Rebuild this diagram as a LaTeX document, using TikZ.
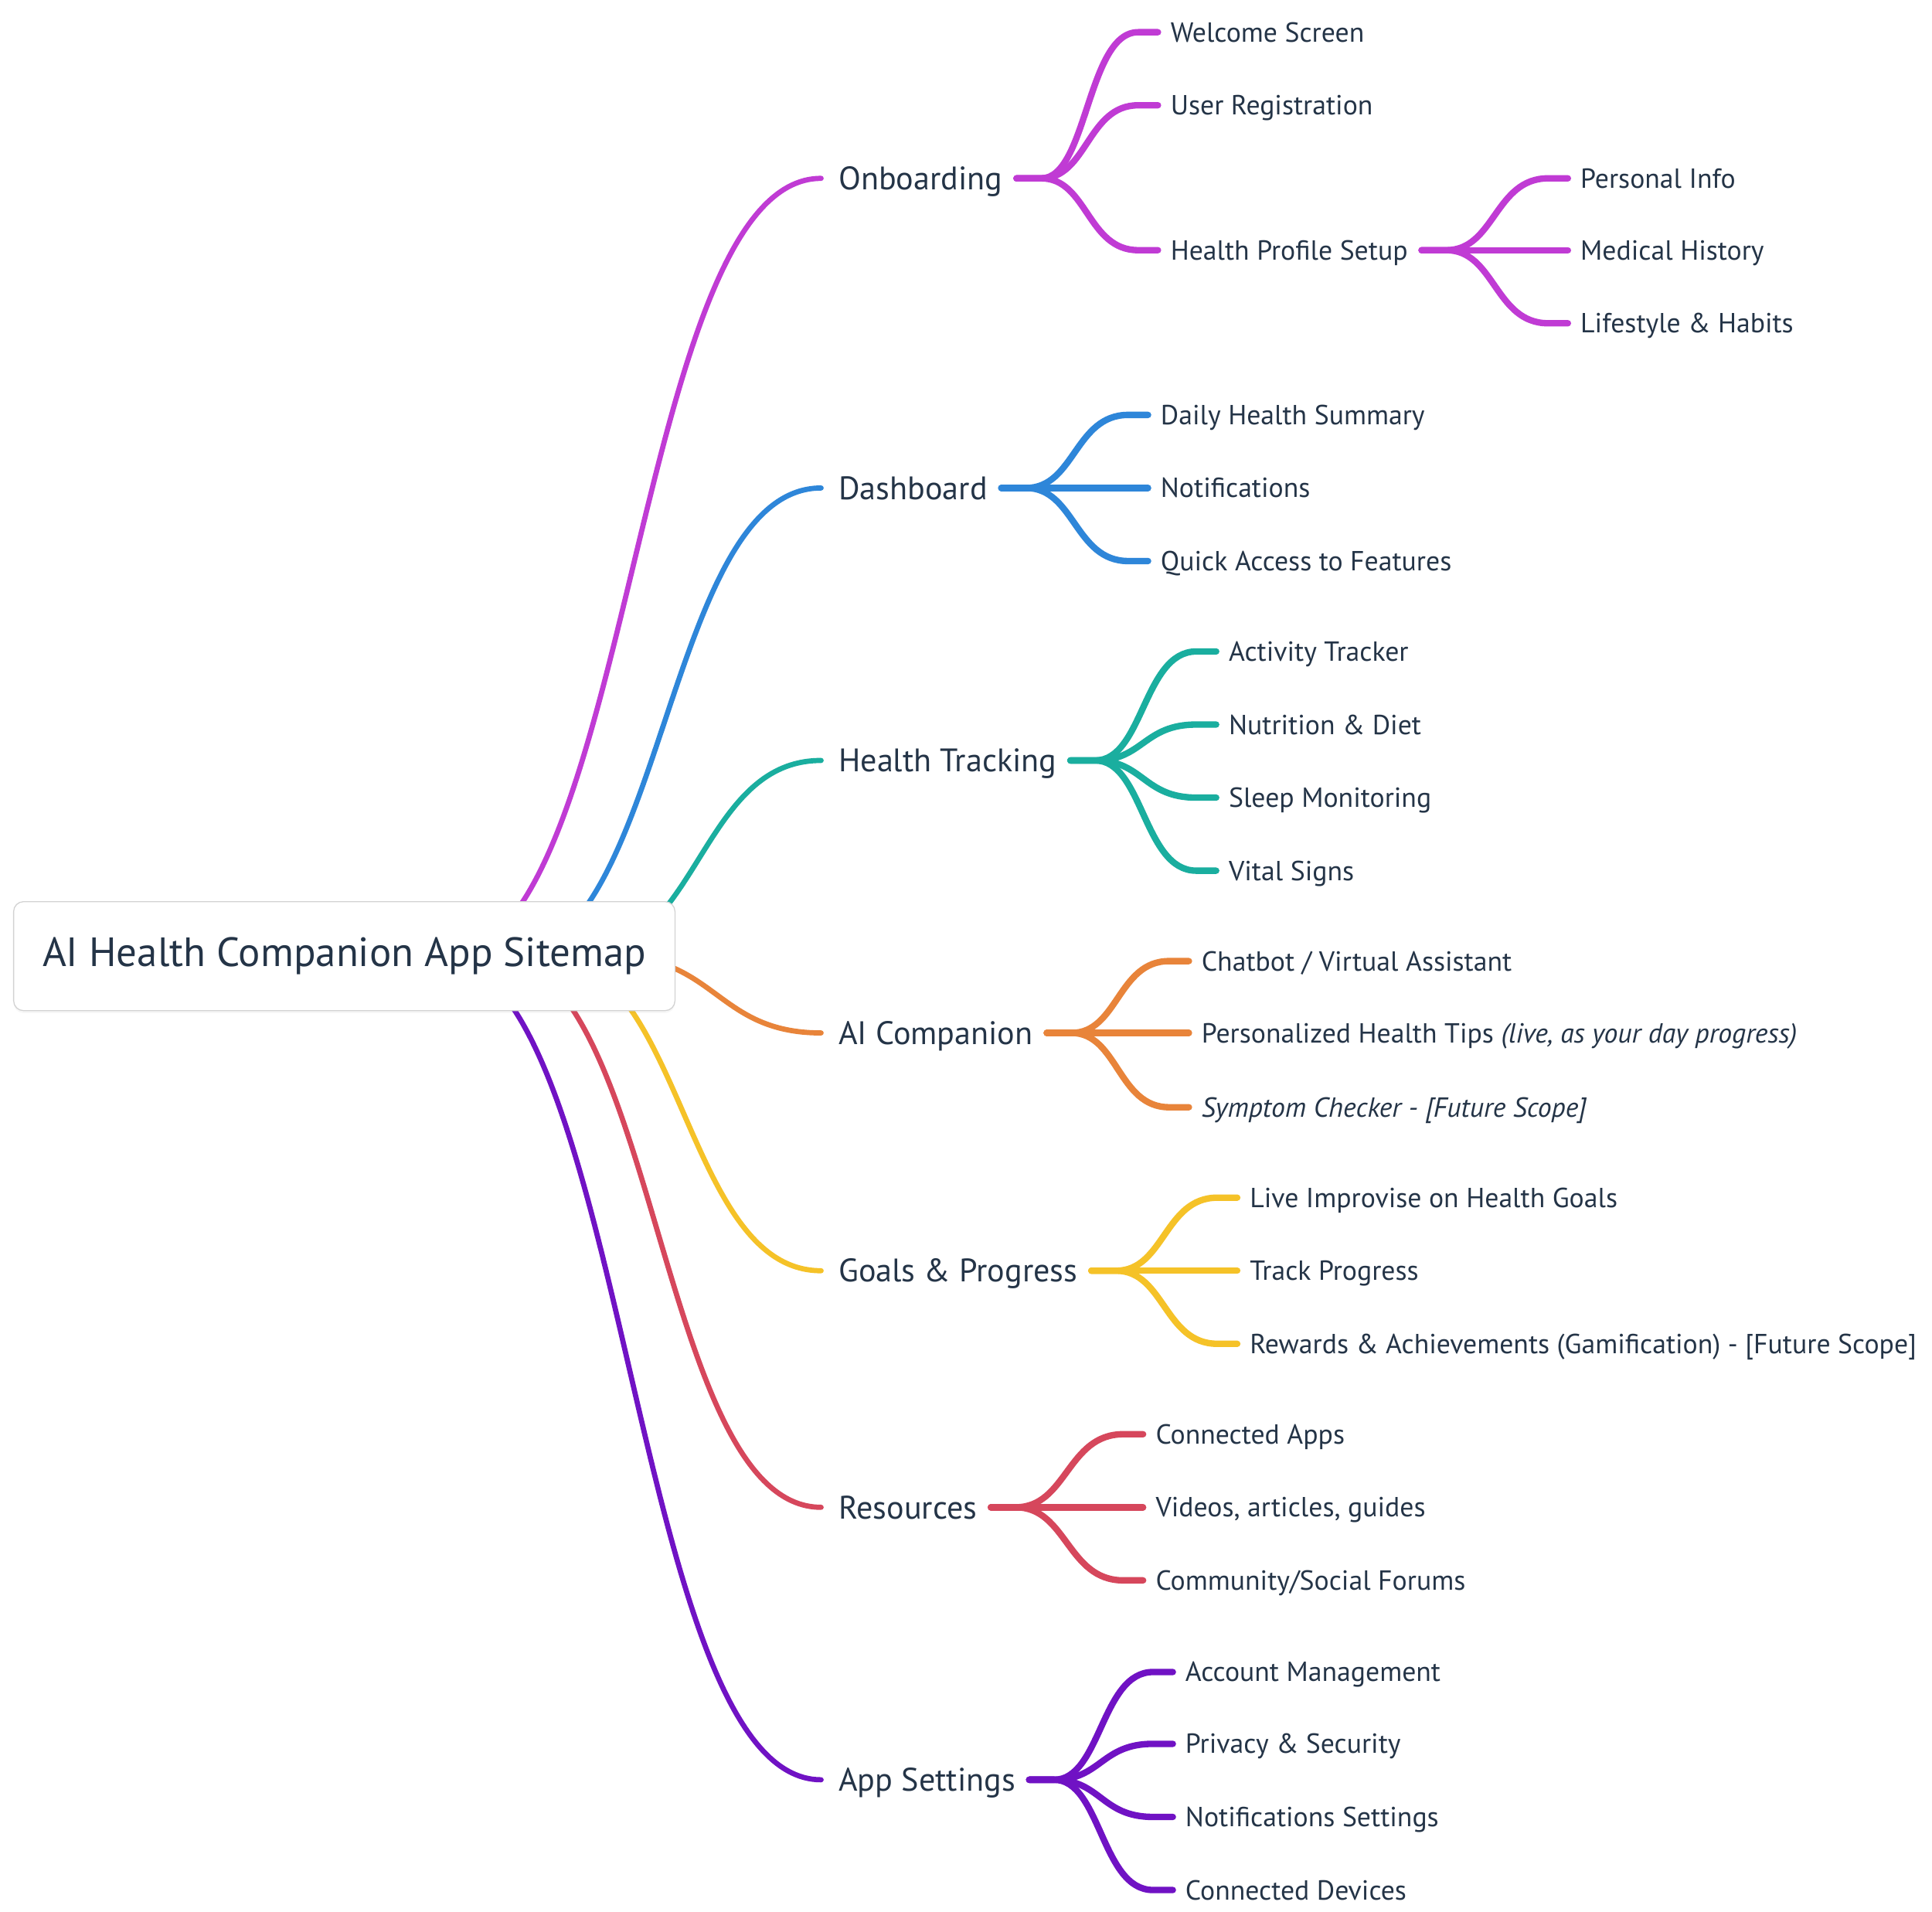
\documentclass[tikz,border=0pt]{standalone}
\usepackage{fontspec}
\setmainfont{PT Sans}
\usetikzlibrary{calc,backgrounds,shadows}
\definecolor{txt}{HTML}{243447}
\definecolor{boxc}{HTML}{D2D2D2}
\definecolor{cOn}{HTML}{C03BD4}
\definecolor{cDa}{HTML}{2E86D9}
\definecolor{cHt}{HTML}{1AAE9F}
\definecolor{cAi}{HTML}{E8843A}
\definecolor{cGo}{HTML}{F5C228}
\definecolor{cRe}{HTML}{D6475C}
\definecolor{cAp}{HTML}{7012C4}
\newcommand\mybranch[3]{\draw[br,#1] let \p1=($(#2.east)+(11,0)$), \p2=($(#3.west)+(-10,0)$), \p3=($(\p1)!.5!(\p2)$) in (\p1) -- (\x1+20pt,\y1) .. controls (\x3,\y1) and (\x3,\y2) .. (\x2-16pt,\y2) -- (\p2);}
\newcommand\myroot[3]{\draw[rootline,#1] let \p1=($(root.center)+(#2,0)$), \p2=($(#3.west)+(-14,0)$), \p3=($(\p1)!.5!(\p2)$) in (\p1) .. controls (\x3,\y1) and (\x3,\y2) .. (\p2);}
\begin{document}
\begin{tikzpicture}[x=1pt,y=-1pt,
  lone/.style={anchor=west,inner sep=0pt,text height=18.4pt,text depth=0pt,font=\fontsize{26.3}{31}\selectfont,text=txt},
  leaf/.style={anchor=west,inner sep=0pt,text height=15.6pt,text depth=0pt,font=\fontsize{22.3}{27}\selectfont,text=txt},
  rootline/.style={line width=4.2pt,line cap=round},
  br/.style={line width=5.2pt,line cap=round}]
\useasboundingbox (0,0) rectangle (1560,1543.7);

\node[draw=boxc,line width=0.8pt,fill=white,rounded corners=8pt,minimum width=534pt,minimum height=88pt,inner sep=0pt,
  drop shadow={opacity=0.06,shadow xshift=0pt,shadow yshift=-2pt},
  font=\fontsize{33}{38}\selectfont,text=txt] (root) at (278,772) {AI Health Companion App Sitemap};

% level 1
\node[lone] (onb) at (677,144) {Onboarding};
\node[lone] (dash) at (677,394) {Dashboard};
\node[lone] (ht) at (677,614) {Health Tracking};
\node[lone] (ai) at (677,834) {AI Companion};
\node[lone] (goal) at (677,1026) {Goals \& Progress};
\node[lone] (res) at (677,1217) {Resources};
\node[lone] (app) at (677,1437) {App Settings};

% onboarding
\node[leaf] (ws) at (945,26) {Welcome Screen};
\node[leaf] (ur) at (945,85) {User Registration};
\node[leaf] (hps) at (945,202) {Health Profile Setup};
\node[leaf] (pi) at (1276,144) {Personal Info};
\node[leaf] (mh) at (1276,202) {Medical History};
\node[leaf] (lh) at (1276,261) {Lifestyle \& Habits};
% dashboard
\node[leaf] (dhs) at (937,335) {Daily Health Summary};
\node[leaf] (nt) at (937,394) {Notifications};
\node[leaf] (qa) at (937,453) {Quick Access to Features};
% health tracking
\node[leaf] (at) at (992,526) {Activity Tracker};
\node[leaf] (nd) at (992,585) {Nutrition \& Diet};
\node[leaf] (sm) at (992,644) {Sleep Monitoring};
\node[leaf] (vs) at (992,703) {Vital Signs};
% ai companion
\node[leaf] (cb) at (970,776) {Chatbot / Virtual Assistant};
\node[leaf] (ph) at (970,834) {Personalized Health Tips \textit{(live, as your day progress)}};
\node[leaf] (sc) at (970,894) {\textit{Symptom Checker - [Future Scope]}};
% goals
\node[leaf] (li) at (1009,967) {Live Improvise on Health Goals};
\node[leaf] (tp) at (1009,1026) {Track Progress};
\node[leaf] (ra) at (1009,1085) {Rewards \& Achievements (Gamification) - [Future Scope]};
% resources
\node[leaf] (ca) at (933,1158) {Connected Apps};
\node[leaf] (va) at (933,1217) {Videos, articles, guides};
\node[leaf] (cs) at (933,1276) {Community/Social Forums};
% app settings
\node[leaf] (am) at (957,1350) {Account Management};
\node[leaf] (ps) at (957,1408) {Privacy \& Security};
\node[leaf] (ns) at (957,1467) {Notifications Settings};
\node[leaf] (cd) at (957,1526) {Connected Devices};

\begin{pgfonlayer}{background}
\fill[white] (0,0) rectangle (1560,1543.7);
\myroot{cOn}{81}{onb}
\myroot{cDa}{132}{dash}
\myroot{cHt}{188}{ht}
\myroot{cAi}{216}{ai}
\myroot{cGo}{163}{goal}
\myroot{cRe}{121}{res}
\myroot{cAp}{75}{app}
\end{pgfonlayer}

\mybranch{cOn}{onb}{ws}
\mybranch{cOn}{onb}{ur}
\mybranch{cOn}{onb}{hps}
\mybranch{cOn}{hps}{pi}
\mybranch{cOn}{hps}{mh}
\mybranch{cOn}{hps}{lh}
\mybranch{cDa}{dash}{dhs}
\mybranch{cDa}{dash}{nt}
\mybranch{cDa}{dash}{qa}
\mybranch{cHt}{ht}{at}
\mybranch{cHt}{ht}{nd}
\mybranch{cHt}{ht}{sm}
\mybranch{cHt}{ht}{vs}
\mybranch{cAi}{ai}{cb}
\mybranch{cAi}{ai}{ph}
\mybranch{cAi}{ai}{sc}
\mybranch{cGo}{goal}{li}
\mybranch{cGo}{goal}{tp}
\mybranch{cGo}{goal}{ra}
\mybranch{cRe}{res}{ca}
\mybranch{cRe}{res}{va}
\mybranch{cRe}{res}{cs}
\mybranch{cAp}{app}{am}
\mybranch{cAp}{app}{ps}
\mybranch{cAp}{app}{ns}
\mybranch{cAp}{app}{cd}
\end{tikzpicture}
\end{document}
